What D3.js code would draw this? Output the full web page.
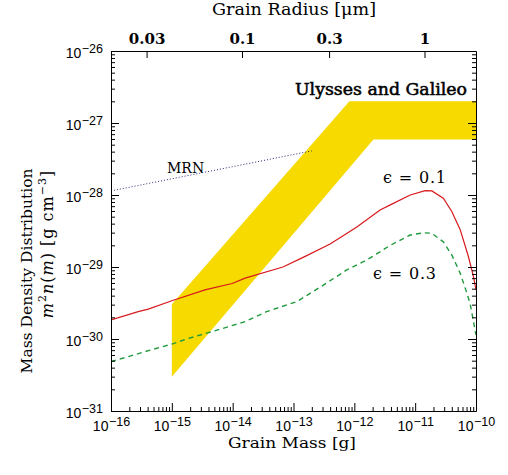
<!DOCTYPE html>
<html>
<head>
<meta charset="utf-8">
<script src="https://cdn.jsdelivr.net/npm/d3@7"></script>
<style>
  body { margin: 0; background: #fff; }
</style>
</head>
<body>
<svg id="chart" width="508" height="475"></svg>
<script>
// axis ticks
const massDecades = [1e-16, 1e-15, 1e-14, 1e-13, 1e-12, 1e-11, 1e-10];
const densityDecades = [1e-31, 1e-30, 1e-29, 1e-28, 1e-27, 1e-26];
const radiusTicks = [0.03, 0.1, 0.3, 1];
const radiusLabels = ["0.03", "0.1", "0.3", "1"];
const grainDensity = 3.4; // g cm^-3, ties the radius axis to the mass axis

// epsilon = 0.1 (red, solid)
const eps01Mass = [1e-16, 2.8e-16, 4.1e-16, 1e-15, 3.5e-15, 9.8e-15, 1.6e-14, 6.7e-14, 1.44e-13,
  4e-13, 1.1e-12, 2.65e-12, 3.9e-12, 8.3e-12, 1.46e-11, 1.88e-11, 2.9e-11, 4e-11, 5.5e-11,
  7.5e-11, 9.1e-11, 1e-10];
const eps01Value = [1.84e-30, 2.4e-30, 2.6e-30, 3.4e-30, 4.8e-30, 5.9e-30, 7.0e-30, 1.0e-29, 1.36e-29,
  2.08e-29, 3.6e-29, 6.2e-29, 7.3e-29, 1.0e-28, 1.15e-28, 1.14e-28, 9.0e-29, 5.9e-29, 3.3e-29,
  1.4e-29, 7.3e-30, 4.8e-30];

// epsilon = 0.3 (green, dashed)
const eps03Mass = [1e-16, 4.4e-16, 1e-15, 1.87e-15, 4.5e-15, 1.6e-14, 3.6e-14, 1.13e-13, 3.1e-13,
  7.5e-13, 1.6e-12, 3.9e-12, 8.3e-12, 1.37e-11, 1.88e-11, 2.9e-11, 4e-11, 5.5e-11, 7.1e-11,
  8e-11, 1e-10];
const eps03Value = [4.84e-31, 7.0e-31, 8.5e-31, 1.02e-30, 1.26e-30, 1.74e-30, 2.4e-30, 3.3e-30, 5.6e-30,
  9.1e-30, 1.25e-29, 2.0e-29, 2.78e-29, 2.99e-29, 2.94e-29, 2.24e-29, 1.47e-29, 8.2e-30, 4.3e-30,
  3.1e-30, 1.14e-30];

// MRN power law (dotted)
const mrnMass = [1e-16, 2e-13];
const mrnValue = [1.14e-28, 4.1e-28];

// Ulysses / Galileo band outline
const bandMass = [1e-15, 8.3e-13, 1e-10, 1e-10, 2.06e-12, 1e-15];
const bandValue = [3.05e-30, 2e-27, 2e-27, 5.9e-28, 5.9e-28, 3e-31];

const frame = { left: 111, right: 476, top: 51, bottom: 411 };
const serif = "'DejaVu Serif', serif";
const sans = "'Liberation Sans', Arial, sans-serif";

const svg = d3.select("#chart");

const x = d3.scaleLog().domain([1e-16, 1e-10]).range([frame.left, frame.right]);
const y = d3.scaleLog().domain([1e-31, 1e-26]).range([frame.bottom, frame.top]);

const radiusOf = m => Math.cbrt(3 * m / (4 * Math.PI * grainDensity)) * 1e4; // micron
const xr = d3.scaleLog().domain([radiusOf(1e-16), radiusOf(1e-10)]).range([frame.left, frame.right]);

const minors = decades => {
  const out = [];
  decades.slice(0, -1).forEach(d => {
    for (let k = 2; k <= 9; k++) out.push(d * k);
  });
  return out;
};

svg.append("clipPath").attr("id", "plotClip")
  .append("rect")
  .attr("x", frame.left).attr("y", frame.top)
  .attr("width", frame.right - frame.left).attr("height", frame.bottom - frame.top);

const plot = svg.append("g").attr("clip-path", "url(#plotClip)");

const line = d3.line()
  .x(d => x(d[0]))
  .y(d => y(d[1]));

// yellow band
plot.append("path")
  .datum(d3.zip(bandMass, bandValue))
  .attr("d", d => line(d) + "Z")
  .attr("fill", "#f7da00")
  .attr("stroke", "none");

// MRN
plot.append("path")
  .datum(d3.zip(mrnMass, mrnValue))
  .attr("d", line)
  .attr("fill", "none")
  .attr("stroke", "#2b2b78")
  .attr("stroke-width", 1)
  .attr("stroke-dasharray", "1,2");

plot.append("path")
  .datum(d3.zip(eps01Mass, eps01Value))
  .attr("d", line)
  .attr("fill", "none")
  .attr("stroke", "#d7191c")
  .attr("stroke-width", 1.2);

plot.append("path")
  .datum(d3.zip(eps03Mass, eps03Value))
  .attr("d", line)
  .attr("fill", "none")
  .attr("stroke", "#1e9a3c")
  .attr("stroke-width", 1.4)
  .attr("stroke-dasharray", "5,4");

// axes
function styleAxis(g) {
  g.selectAll("path, line").attr("stroke", "#000").attr("stroke-width", 1);
}

function powerLabel(text, d) {
  const e = Math.round(Math.log10(d));
  text.text("10");
  text.append("tspan")
    .attr("font-size", 12.5)
    .attr("dx", 0.5)
    .attr("dy", -5)
    .text("\u2212" + Math.abs(e));
}

// bottom
const gBottom = svg.append("g").attr("transform", `translate(0,${frame.bottom})`)
  .call(d3.axisBottom(x).tickValues(massDecades).tickSize(-8).tickSizeOuter(0).tickFormat(() => ""));
gBottom.selectAll(".tick text").each(function (d) {
  const t = d3.select(this).attr("y", 20).attr("dy", null)
    .attr("font-family", sans).attr("font-size", 14).attr("fill", "#000")
    .attr("text-anchor", "middle");
  powerLabel(t, d);
});
svg.append("g").attr("transform", `translate(0,${frame.bottom})`)
  .call(d3.axisBottom(x).tickValues(minors(massDecades)).tickSize(-4).tickFormat(""))
  .call(g => g.select(".domain").remove())
  .call(styleAxis);
styleAxis(gBottom);

// top (grain radius)
const gTop = svg.append("g").attr("transform", `translate(0,${frame.top})`)
  .call(d3.axisTop(xr).tickValues(radiusTicks).tickSize(-7).tickSizeOuter(0)
    .tickFormat((d, i) => radiusLabels[i]));
gTop.selectAll(".tick text")
  .attr("y", -7).attr("dy", null)
  .attr("font-family", serif).attr("font-size", 15).attr("font-weight", "bold")
  .attr("fill", "#000");
styleAxis(gTop);

// left
const gLeft = svg.append("g").attr("transform", `translate(${frame.left},0)`)
  .call(d3.axisLeft(y).tickValues(densityDecades).tickSize(-8).tickSizeOuter(0).tickFormat(() => ""));
gLeft.selectAll(".tick text").each(function (d) {
  const t = d3.select(this).attr("x", -8).attr("dy", "0.45em")
    .attr("font-family", sans).attr("font-size", 14).attr("fill", "#000")
    .attr("text-anchor", "end");
  powerLabel(t, d);
});
svg.append("g").attr("transform", `translate(${frame.left},0)`)
  .call(d3.axisLeft(y).tickValues(minors(densityDecades)).tickSize(-4).tickFormat(""))
  .call(g => g.select(".domain").remove())
  .call(styleAxis);
styleAxis(gLeft);

// right
svg.append("g").attr("transform", `translate(${frame.right},0)`)
  .call(d3.axisRight(y).tickValues(densityDecades).tickSize(-8).tickSizeOuter(0).tickFormat(""))
  .call(styleAxis);
svg.append("g").attr("transform", `translate(${frame.right},0)`)
  .call(d3.axisRight(y).tickValues(minors(densityDecades)).tickSize(-4).tickFormat(""))
  .call(g => g.select(".domain").remove())
  .call(styleAxis);

// titles
svg.append("text")
  .attr("x", 294).attr("y", 15)
  .attr("text-anchor", "middle")
  .attr("font-family", serif).attr("font-size", 16)
  .attr("textLength", 164).attr("lengthAdjust", "spacingAndGlyphs")
  .text("Grain Radius [μm]");

svg.append("text")
  .attr("x", 292).attr("y", 448)
  .attr("text-anchor", "middle")
  .attr("font-family", serif).attr("font-size", 14.5)
  .attr("textLength", 128).attr("lengthAdjust", "spacingAndGlyphs")
  .text("Grain Mass [g]");

svg.append("text")
  .attr("transform", "translate(32,271) rotate(-90)")
  .attr("text-anchor", "middle")
  .attr("font-family", serif).attr("font-size", 15.5)
  .attr("textLength", 205).attr("lengthAdjust", "spacingAndGlyphs")
  .text("Mass Density Distribution");

const yt2 = svg.append("text")
  .attr("transform", "translate(53,244) rotate(-90)")
  .attr("text-anchor", "middle")
  .attr("font-family", serif).attr("font-size", 16)
  .attr("letter-spacing", 1);
yt2.append("tspan").attr("font-style", "italic").text("m");
yt2.append("tspan").attr("font-size", 11).attr("dy", -7).text("2");
yt2.append("tspan").attr("font-style", "italic").attr("dy", 7).text("n");
yt2.append("tspan").text("(");
yt2.append("tspan").attr("font-style", "italic").text("m");
yt2.append("tspan").text(")  [g cm");
yt2.append("tspan").attr("font-size", 11).attr("dy", -7).text("\u22123");
yt2.append("tspan").attr("dy", 7).text("]");

// annotations
svg.append("text")
  .attr("x", 381).attr("y", 95)
  .attr("text-anchor", "middle")
  .attr("font-family", serif).attr("font-size", 16)
  .attr("stroke", "#000").attr("stroke-width", 0.5)
  .attr("textLength", 172).attr("lengthAdjust", "spacingAndGlyphs")
  .text("Ulysses and Galileo");

svg.append("text")
  .attr("x", 167).attr("y", 173)
  .attr("font-family", serif).attr("font-size", 14)
  .text("MRN");

svg.append("text")
  .attr("x", 383).attr("y", 183)
  .attr("font-family", serif).attr("font-size", 16)
  .attr("textLength", 63).attr("lengthAdjust", "spacing")
  .text("ϵ = 0.1");

svg.append("text")
  .attr("x", 373).attr("y", 279)
  .attr("font-family", serif).attr("font-size", 16)
  .attr("textLength", 63).attr("lengthAdjust", "spacing")
  .text("ϵ = 0.3");
</script>
</body>
</html>
